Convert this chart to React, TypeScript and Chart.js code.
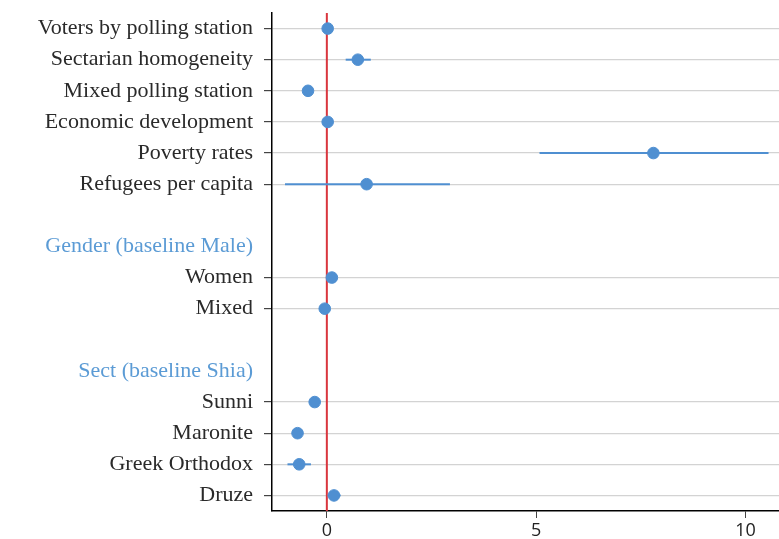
import React, { useEffect, useRef } from "react";
import { Chart, registerables } from "chart.js";

Chart.register(...registerables);

const categories = [
  "Voters by polling station",
  "Sectarian homogeneity",
  "Mixed polling station",
  "Economic development",
  "Poverty rates",
  "Refugees per capita",
  " ",
  "Gender (baseline Male)",
  "Women",
  "Mixed",
  "  ",
  "Sect (baseline Shia)",
  "Sunni",
  "Maronite",
  "Greek Orthodox",
  "Druze",
];

const headers = ["Gender (baseline Male)", "Sect (baseline Shia)"];
const blanks = [" ", "  "];

const termNames = [
  "Voters by polling station",
  "Sectarian homogeneity",
  "Mixed polling station",
  "Economic development",
  "Poverty rates",
  "Refugees per capita",
  "Women",
  "Mixed",
  "Sunni",
  "Maronite",
  "Greek Orthodox",
  "Druze",
];
const estimates = [0.02, 0.74, -0.45, 0.02, 7.8, 0.95, 0.12, -0.05, -0.29, -0.7, -0.66, 0.17];
const lower = [0.0, 0.45, -0.47, 0.0, 5.08, -1.0, 0.1, -0.07, -0.31, -0.72, -0.94, 0.02];
const upper = [0.04, 1.05, -0.43, 0.04, 10.55, 2.94, 0.14, -0.03, -0.27, -0.68, -0.38, 0.33];

const xTicks = [0, 5, 10];
const xMin = -1.31;
const xMax = 10.8;

const BLUE = "#4f8fd1";
const HEADER_BLUE = "#5b9bd5";
const RED = "#d9363e";
const LABEL_FONT = "'Liberation Serif', serif";

const isDataRow = (label: string) => !headers.includes(label) && !blanks.includes(label);

const overlayPlugin = {
  id: "coefOverlay",
  beforeDatasetsDraw(chart: any) {
    const { ctx, chartArea, scales } = chart;
    const xs = scales.x;
    const ys = scales.y;
    ctx.save();
    const x0 = xs.getPixelForValue(0);
    ctx.strokeStyle = RED;
    ctx.lineWidth = 2;
    ctx.beginPath();
    ctx.moveTo(x0, chartArea.top);
    ctx.lineTo(x0, chartArea.bottom);
    ctx.stroke();
    ctx.strokeStyle = BLUE;
    ctx.lineWidth = 2;
    termNames.forEach((name, i) => {
      const y = ys.getPixelForValue(categories.indexOf(name));
      ctx.beginPath();
      ctx.moveTo(xs.getPixelForValue(lower[i]), y);
      ctx.lineTo(xs.getPixelForValue(upper[i]), y);
      ctx.stroke();
    });
    ctx.restore();
  },
};

export default function App() {
  const canvasRef = useRef<HTMLCanvasElement>(null);

  useEffect(() => {
    document.body.style.margin = "0";
    const canvas = canvasRef.current;
    if (!canvas) return;
    const chart = new Chart(canvas, {
      type: "scatter",
      data: {
        datasets: [
          {
            data: termNames.map((name, i) => ({ x: estimates[i], y: name })) as any,
            backgroundColor: BLUE,
            borderColor: BLUE,
            pointRadius: 5.8,
            pointHoverRadius: 5.8,
            clip: false as any,
          },
        ],
      },
      options: {
        animation: false,
        responsive: false,
        maintainAspectRatio: false,
        layout: { autoPadding: false, padding: { top: 13, right: 0, left: 0, bottom: 0 } },
        plugins: {
          legend: { display: false },
          tooltip: { enabled: false },
        },
        scales: {
          x: {
            type: "linear",
            min: xMin,
            max: xMax,
            afterBuildTicks: (scale: any) => {
              scale.ticks = xTicks.map((v) => ({ value: v }));
            },
            afterFit: (scale: any) => {
              scale.height = 28;
              scale.paddingLeft = 0;
              scale.paddingRight = 0;
            },
            border: { display: true, color: "#000", width: 1.5 },
            grid: {
              drawOnChartArea: false,
              drawTicks: true,
              tickLength: 7,
              tickColor: "#444",
            },
            ticks: {
              color: "#222",
              font: { family: "'Open Sans', sans-serif", size: 18 },
              padding: 2,
            },
          },
          y: {
            type: "category",
            labels: categories,
            offset: true,
            afterFit: (scale: any) => {
              scale.width = 272;
              scale.paddingTop = 0;
              scale.paddingBottom = 0;
            },
            border: { display: true, color: "#000", width: 1.5 },
            grid: {
              offset: false,
              color: (c: any) => (c.tick && isDataRow(c.tick.label) ? "#d3d3d3" : "rgba(0,0,0,0)"),
              tickColor: (c: any) => (c.tick && isDataRow(c.tick.label) ? "#444" : "rgba(0,0,0,0)"),
              tickLength: 8,
              lineWidth: 1.2,
            },
            ticks: {
              autoSkip: false,
              padding: 11,
              color: (c: any) => (c.tick && headers.includes(c.tick.label) ? HEADER_BLUE : "#2a2a2a"),
              font: { family: LABEL_FONT, size: 22 },
            },
          },
        },
      },
      plugins: [overlayPlugin],
    });
    return () => chart.destroy();
  }, []);

  return (
    <div style={{ width: 779, height: 539, position: "relative" }}>
      <canvas ref={canvasRef} width={779} height={539} style={{ width: 779, height: 539, display: "block" }} />
    </div>
  );
}
